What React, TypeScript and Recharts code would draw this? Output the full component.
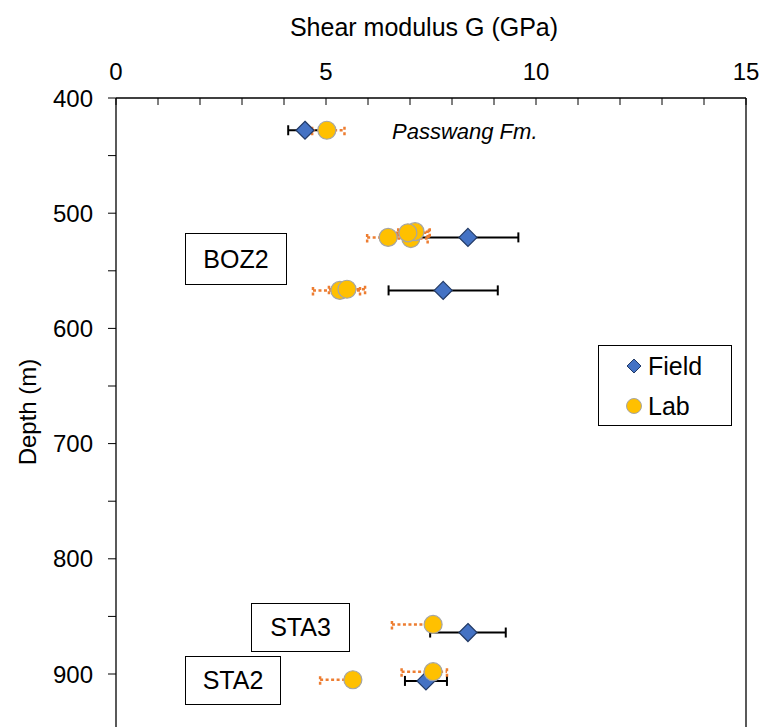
import {
  ErrorBar,
  Legend,
  ReferenceLine,
  Scatter,
  ScatterChart,
  XAxis,
  YAxis,
} from "recharts";

document.body.style.margin = "0";
document.body.style.overflow = "hidden";

const FONT = '"Liberation Sans", Arial, sans-serif';

// Field measurements: shear modulus (GPa), depth (m), +/- error
const fieldG = [4.5, 8.38, 7.79, 8.38, 7.38];
const fieldDepth = [428, 521, 567, 864, 906];
const fieldErr = [0.4, 1.2, 1.3, 0.9, 0.5];

// Lab measurements, error given as [minus, plus]
const labG = [5.02, 6.48, 7.02, 7.12, 6.95, 5.33, 5.5, 7.55, 5.64, 7.55];
const labDepth = [428, 521, 522, 516, 517, 567, 566, 857, 905, 898];
const labErrMinus = [0.35, 0.5, 0.45, 0.4, 0.55, 0.64, 0.43, 0.98, 0.78, 0.75];
const labErrPlus = [0.42, 0.5, 0.4, 0.35, 0.5, 0.48, 0.43, 0, 0, 0.33];

const gTicks = [0, 1, 2, 3, 4, 5, 6, 7, 8, 9, 10, 11, 12, 13, 14, 15];
const depthTicks = [400, 450, 500, 550, 600, 650, 700, 750, 800, 850, 900];

const fieldData = fieldG.map((g, i) => ({ g, depth: fieldDepth[i], err: fieldErr[i] }));
const labData = labG.map((g, i) => ({
  g,
  depth: labDepth[i],
  err: [labErrMinus[i], labErrPlus[i]],
}));

const Diamond = (p: any) => {
  const { cx, cy } = p;
  const r = 9;
  return (
    <polygon
      points={`${cx},${cy - r} ${cx + r},${cy} ${cx},${cy + r} ${cx - r},${cy}`}
      fill="#4472C4"
      stroke="#223A66"
      strokeWidth={1.2}
    />
  );
};

const Dot = (p: any) => (
  <circle cx={p.cx} cy={p.cy} r={9} fill="#FFC000" stroke="#A5A5A5" strokeWidth={1.2} />
);

const TopTick = (p: any) => {
  const { x, y, payload } = p;
  const v = payload.value;
  return (
    <g>
      <line x1={x} x2={x} y1={y + 18} y2={y + 25} stroke="#000" strokeWidth={1} />
      {v % 5 === 0 && (
        <text x={x} y={y} textAnchor="middle" fontFamily={FONT} fontSize={24} fill="#000">
          {v}
        </text>
      )}
    </g>
  );
};

const LegendBox = () => (
  <div
    style={{
      width: 132,
      height: 79,
      border: "1px solid #000",
      background: "#fff",
      fontFamily: FONT,
      fontSize: 25,
      color: "#000",
      position: "relative",
    }}
  >
    <svg width={132} height={79} style={{ position: "absolute", left: 0, top: 0 }}>
      <polygon points="35,13 42,20 35,27 28,20" fill="#4472C4" stroke="#223A66" strokeWidth={1} />
      <circle cx={35} cy={60} r={7.5} fill="#FFC000" stroke="#A5A5A5" strokeWidth={1} />
      <text x={49} y={29} fontFamily={FONT} fontSize={25}>Field</text>
      <text x={49} y={69} fontFamily={FONT} fontSize={25}>Lab</text>
    </svg>
  </div>
);

const boxStyle = (left: number, top: number, w: number, h: number): any => ({
  position: "absolute",
  left,
  top,
  width: w,
  height: h,
  border: "1px solid #000",
  background: "#fff",
  boxSizing: "border-box",
  display: "flex",
  alignItems: "center",
  justifyContent: "center",
  fontFamily: FONT,
  fontSize: 25,
  color: "#000",
});

export default function App() {
  return (
    <div style={{ position: "relative", width: 762, height: 727, background: "#fff" }}>
      <ScatterChart width={762} height={727} margin={{ top: 0, right: 16, bottom: 0, left: 0 }}>
        <XAxis
          type="number"
          dataKey="g"
          orientation="top"
          domain={[0, 15]}
          ticks={gTicks}
          interval={0}
          height={98}
          tickSize={0}
          tickMargin={18}
          tickLine={false}
          axisLine={{ stroke: "#000", strokeWidth: 1.3 }}
          tick={<TopTick />}
          label={{
            content: ({ viewBox }: any) => (
              <text
                x={viewBox.x + viewBox.width / 2 - 7}
                y={viewBox.y + 36}
                textAnchor="middle"
                fontFamily={FONT}
                fontSize={25}
                fill="#000"
              >
                Shear modulus G (GPa)
              </text>
            ),
          }}
        />
        <YAxis
          type="number"
          dataKey="depth"
          reversed
          domain={[400, 946]}
          allowDataOverflow
          ticks={depthTicks}
          interval={0}
          width={116}
          tickSize={8}
          tickMargin={15}
          tickLine={{ stroke: "#000" }}
          axisLine={{ stroke: "#000", strokeWidth: 1.3 }}
          tickFormatter={(v: number) => (v % 100 === 0 ? String(v) : "")}
          tick={{ fill: "#000", fontSize: 24, fontFamily: FONT }}
          label={{
            content: ({ viewBox }: any) => (
              <text
                x={27}
                y={viewBox.y + 314}
                transform={`rotate(-90, 27, ${viewBox.y + 314})`}
                textAnchor="middle"
                dominantBaseline="central"
                fontFamily={FONT}
                fontSize={24}
                fill="#000"
              >
                Depth (m)
              </text>
            ),
          }}
        />
        <ReferenceLine x={15} stroke="#000" strokeWidth={1.3} />
        <Scatter name="Field" data={fieldData} shape={<Diamond />} isAnimationActive={false}>
          <ErrorBar dataKey="err" direction="x" width={5} stroke="#000" strokeWidth={2} />
        </Scatter>
        <Scatter name="Lab" data={labData} shape={<Dot />} isAnimationActive={false}>
          <ErrorBar
            dataKey="err"
            direction="x"
            width={5}
            stroke="#ED7D31"
            strokeWidth={2.5}
            strokeDasharray="3 2.5"
          />
        </Scatter>
        <Legend
          layout="vertical"
          align="center"
          verticalAlign="middle"
          content={() => <LegendBox />}
          wrapperStyle={{ left: 598, top: 345, width: 134, height: 81 }}
        />
      </ScatterChart>
      <div
        style={{
          position: "absolute",
          left: 392,
          top: 119,
          fontFamily: FONT,
          fontSize: 22,
          fontStyle: "italic",
          color: "#000",
          whiteSpace: "nowrap",
        }}
      >
        Passwang Fm.
      </div>
      <div style={boxStyle(185, 233, 102, 52)}>BOZ2</div>
      <div style={boxStyle(251, 603, 99, 49)}>STA3</div>
      <div style={boxStyle(185, 656, 96, 49)}>STA2</div>
    </div>
  );
}
